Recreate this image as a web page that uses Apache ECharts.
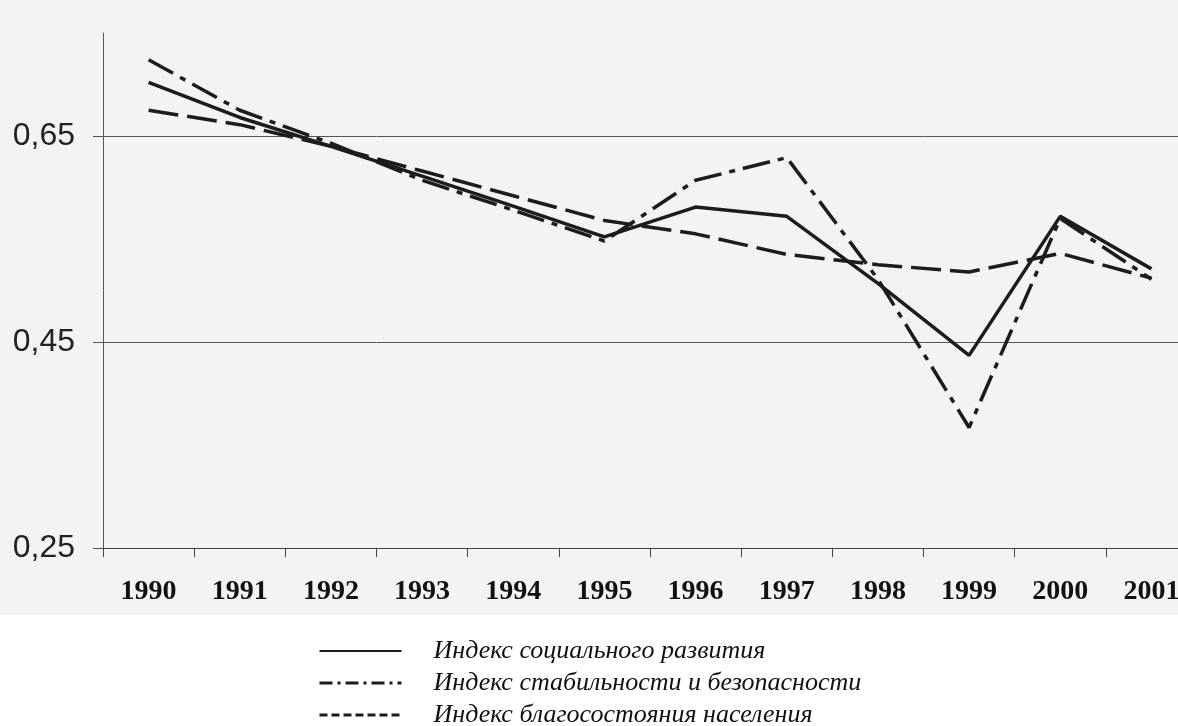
<!DOCTYPE html>
<html>
<head>
<meta charset="utf-8">
<style>
  html, body { margin: 0; padding: 0; background: #fff; overflow: hidden; }
  /* холст шире окна: последняя категория обрезается справа, как в оригинале */
  #chart { width: 1197px; height: 726px; }
</style>
<script src="https://cdn.jsdelivr.net/npm/echarts@6/dist/echarts.min.js"></script>
</head>
<body>
<div id="chart"></div>
<script>
// годы
var years = ['1990', '1991', '1992', '1993', '1994', '1995', '1996', '1997', '1998', '1999', '2000', '2001']
// индекс социального развития
var socialDev = [0.702, 0.668, 0.640, 0.611, 0.582, 0.552, 0.581, 0.572, 0.507, 0.437, 0.572, 0.521]
// индекс стабильности и безопасности
var stability = [0.724, 0.675, 0.643, 0.607, 0.578, 0.548, 0.607, 0.629, 0.511, 0.367, 0.570, 0.511]
// индекс благосостояния населения
var welfare = [0.675, 0.661, 0.640, 0.616, 0.592, 0.568, 0.555, 0.535, 0.525, 0.518, 0.536, 0.512]

var names = ['Индекс социального развития', 'Индекс стабильности и безопасности', 'Индекс благосостояния населения']

var ink = '#1c1c1c'
var dashDot = [28, 8, 6, 8]
var dashed = [30, 9]

var chart = echarts.init(document.getElementById('chart'))

function lineSeries (name, data, type) {
    return {
        name: name,
        type: 'line',
        data: data,
        symbol: 'none',
        smooth: false,
        lineStyle: { color: ink, width: 3.5, type: type },
        itemStyle: { color: ink },
        z: 3
    }
}

// прячем кружок в значке легенды
var noDot = { color: 'rgba(0,0,0,0)', borderWidth: 0 }

var option = {
    animation: false,
    backgroundColor: '#ffffff',
    graphic: [{
        type: 'rect',
        shape: { x: 0, y: 0, width: 1197, height: 615 },
        style: { fill: '#f3f3f3' },
        z: -10,
        silent: true
    }],
    grid: { left: 103, right: 0, top: 33, bottom: 178, containLabel: false },
    legend: {
        orient: 'vertical',
        left: 318,
        top: 638,
        height: 100,
        padding: 0,
        itemWidth: 82,
        itemHeight: 14,
        itemGap: 6,
        selectedMode: false,
        textStyle: {
            fontFamily: '"Liberation Serif", "DejaVu Serif", serif',
            fontStyle: 'italic',
            fontSize: 26,
            color: '#111',
            padding: [0, 0, 0, 27]
        },
        data: [
            { name: names[0], itemStyle: noDot, lineStyle: { color: ink, width: 2, type: 'solid' } },
            { name: names[1], itemStyle: noDot, lineStyle: { color: ink, width: 3, type: [13, 5, 3, 5] } },
            { name: names[2], itemStyle: noDot, lineStyle: { color: ink, width: 3, type: [8, 4] } }
        ]
    },
    xAxis: {
        type: 'category',
        data: years,
        boundaryGap: true,
        axisLine: { show: true, lineStyle: { color: '#444', width: 1 } },
        axisTick: { show: true, inside: false, length: 9, alignWithLabel: false, lineStyle: { color: '#444' } },
        axisLabel: {
            margin: 30,
            fontFamily: '"Liberation Serif", "DejaVu Serif", serif',
            fontWeight: 'bold',
            fontSize: 28,
            color: '#111'
        },
        splitLine: { show: false }
    },
    yAxis: {
        type: 'value',
        min: 0.25,
        max: 0.75,
        interval: 0.2,
        axisLine: { show: true, lineStyle: { color: '#555', width: 1 } },
        axisTick: { show: true, length: 10, lineStyle: { color: '#555' } },
        axisLabel: {
            margin: 28,
            fontFamily: '"Liberation Sans", Arial, sans-serif',
            fontSize: 32,
            color: '#222',
            showMaxLabel: false,
            formatter: function (v) {
                return v.toFixed(2).replace('.', ',')
            }
        },
        splitLine: {
            show: true,
            lineStyle: { color: ['#555', '#555', '#555', 'rgba(0,0,0,0)'], width: 1 }
        }
    },
    series: [
        lineSeries(names[0], socialDev, 'solid'),
        lineSeries(names[1], stability, dashDot),
        lineSeries(names[2], welfare, dashed)
    ]
}

chart.setOption(option)
</script>
</body>
</html>
